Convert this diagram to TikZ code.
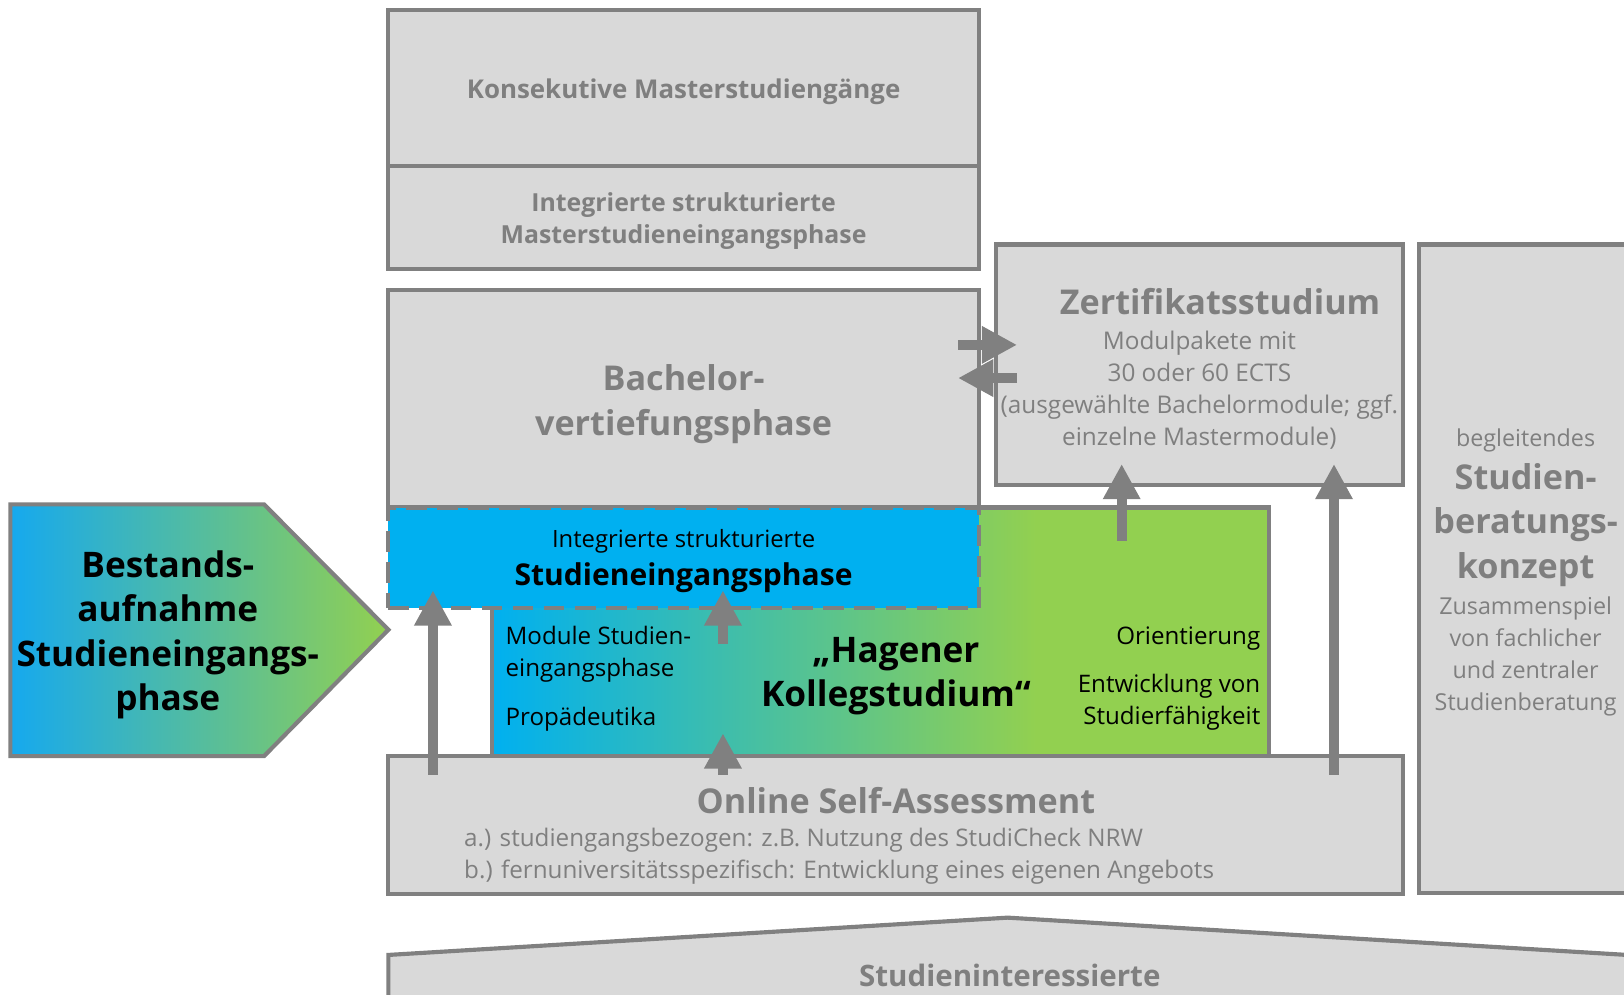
\documentclass[tikz,border=0pt]{standalone}
\usepackage{fontspec}
\setmainfont{Open Sans}
\usetikzlibrary{arrows.meta,calc}
\definecolor{boxgray}{HTML}{D9D9D9}
\definecolor{linegray}{HTML}{808080}
\definecolor{txtgray}{HTML}{7F7F7F}
\definecolor{cyanb}{HTML}{00B0F0}
\definecolor{bestl}{HTML}{16A9EE}
\definecolor{greenb}{HTML}{92D050}
\pgfdeclarehorizontalshading{hagshade}{100bp}{color(0bp)=(cyanb); color(25bp)=(cyanb); color(60bp)=(greenb); color(100bp)=(greenb)}
\newcommand{\fs}[2]{\fontsize{#1}{#2}\selectfont}
\begin{document}
\begin{tikzpicture}[x=1pt,y=-1pt,
  box/.style={draw=linegray,line width=4pt,fill=boxgray,inner sep=0pt,outer sep=0pt,anchor=north west},
  lbl/.style={inner sep=0pt,align=center},
  arr/.style={draw=linegray,line width=10pt,-{Triangle[width=34pt,length=34pt]}}]
\clip (0,0) rectangle (1568,960);
\fill[white] (0,0) rectangle (1568,960);
% upper boxes
\node[box,minimum width=570pt,minimum height=150pt] (kons) at (375,10) {};
\node[lbl,text=txtgray,font=\fs{25}{31}\bfseries] (konsT) at (660,89) {Konsekutive Masterstudiengänge};
\node[box,minimum width=570pt,minimum height=100pt] (imas) at (375,160) {};
\node[lbl,text=txtgray,font=\fs{24}{31}\bfseries] (imasT) at (660,213) {Integrierte strukturierte\\Masterstudieneingangsphase};
\node[box,minimum width=570pt,minimum height=210pt] (bach) at (375,280) {};
\node[lbl,text=txtgray,font=\fs{33}{43}\bfseries] (bachT) at (660,390) {Bachelor-\\vertiefungsphase};
% Zertifikat
\node[box,minimum width=393pt,minimum height=232pt] (zert) at (962,236) {};
\node[lbl,text=txtgray,font=\fs{33}{40}\bfseries] (zertT) at (1178,291) {Zertifikatsstudium};
\node[lbl,text=txtgray,font=\fs{23.5}{31}] (zertS) at (1158,376.5) {Modulpakete mit\\30 oder 60 ECTS\\(ausgewählte Bachelormodule; ggf.\\einzelne Mastermodule)};
% Beratung
\node[box,minimum width=240pt,minimum height=626pt] (ber) at (1370,236) {};
\node[lbl,text=txtgray,font=\fs{22.5}{31}] (berA) at (1473,425) {begleitendes};
\node[lbl,text=txtgray,font=\fs{33}{43}\bfseries] (berB) at (1473,507) {Studien-\\beratungs-\\konzept};
\node[lbl,text=txtgray,font=\fs{22.5}{31}] (berC) at (1473,634) {Zusammenspiel\\von fachlicher\\und zentraler\\Studienberatung};
% OSA
\node[box,minimum width=980pt,minimum height=133pt] (osa) at (375,730) {};
\node[lbl,text=txtgray,font=\fs{33}{40}\bfseries] (osaT) at (865,773) {Online Self-Assessment};
\node[lbl,text=txtgray,font=\fs{23.4}{31},align=left,anchor=west] (osaS) at (448,827) {a.) studiengangsbezogen: z.B. Nutzung des StudiCheck NRW\\b.) fernuniversitätsspezifisch: Entwicklung eines eigenen Angebots};
% Studieninteressierte
\draw[draw=linegray,line width=4pt,fill=boxgray] (375,990) -- (375,922) -- (973,886) -- (1571,922) -- (1571,990) -- cycle;
\node[lbl,text=txtgray,font=\fs{28.5}{34}\bfseries] (studi) at (975,942) {Studieninteressierte};
% Hagener
\node[box,shade,shading=hagshade,minimum width=750pt,minimum height=240pt] (hag) at (475,490) {};
% Studieneingangsphase
\node[box,fill=cyanb,dash pattern=on 20pt off 10pt,minimum width=570pt,minimum height=97pt] (sie) at (375,490) {};
\node[lbl,font=\fs{23}{31}] (sieA) at (660,523) {Integrierte strukturierte};
\node[lbl,font=\fs{29}{35}\bfseries] (sieB) at (660,558) {Studieneingangsphase};
% Hagener texts
\node[lbl,font=\fs{34}{42}\bfseries] (hagT) at (865,653) {„Hagener\\Kollegstudium“};
\node[lbl,font=\fs{23.3}{31},align=left,anchor=west] (mod) at (488,632) {Module Studien-\\eingangsphase};
\node[lbl,font=\fs{23.3}{31},anchor=west] (prop) at (488,694) {Propädeutika};
\node[lbl,font=\fs{23.3}{31},anchor=east] (ori) at (1217,617) {Orientierung};
\node[lbl,font=\fs{23.3}{31},align=right,anchor=east] (entw) at (1217,678) {Entwicklung von\\Studierfähigkeit};
% Bestandsaufnahme
\draw[draw=linegray,line width=4pt,left color=bestl,right color=greenb] (10,487) -- (255,487) -- (375,608) -- (255,730) -- (10,730) -- cycle;
\node[lbl,font=\fs{34}{43}\bfseries] (best) at (162,613) {Bestands-\\aufnahme\\Studieneingangs-\\phase};
% arrows
\draw[arr] ($(osa.north west)+(43,18)$) -- ($(sie.south west)+(43,-17)$);
\draw[arr] ($(osa.north west)+(323,18)$) -- ($(hag.south west)+(223,-22)$);
\draw[arr] ($(hag.north west)+(223,132)$) -- ($(sie.south west)+(323,-17)$);
\draw[arr] ($(hag.north west)+(608,32)$) -- ($(zert.south west)+(121,-20)$);
\draw[arr] ($(osa.north west)+(913,18)$) -- ($(zert.south west)+(326,-20)$);
\draw[arr] ($(bach.north east)+(-20,53)$) -- ($(zert.north west)+(20,97)$);
\draw[arr] ($(zert.north west)+(20,129)$) -- ($(bach.north east)+(-20,85)$);
\end{tikzpicture}
\end{document}
